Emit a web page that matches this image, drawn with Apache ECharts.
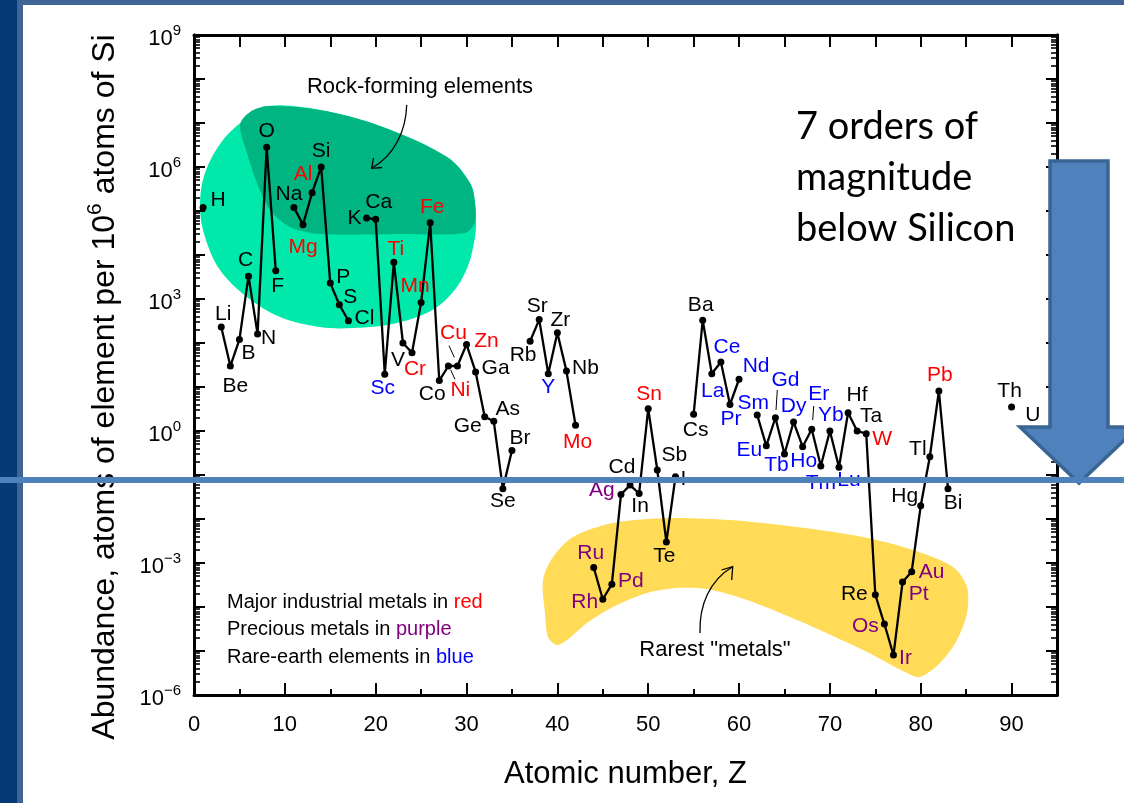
<!DOCTYPE html>
<html>
<head>
<meta charset="utf-8">
<script src="https://cdn.jsdelivr.net/npm/echarts@6/dist/echarts.min.js"></script>
<style>
html, body { margin: 0; padding: 0; background: #fff; }
#chart { width: 1124px; height: 803px; }
</style>
</head>
<body>
<div id="chart"></div>
<script>
// element abundances in the crust, atoms per 10^6 atoms of Si
var symbols = ['H','Li','Be','B','C','N','O','F','Na','Mg','Al','Si','P','S','Cl','K','Ca','Sc','Ti','V','Cr','Mn','Fe','Co','Ni','Cu','Zn','Ga','Ge','As','Se','Br','Rb','Sr','Y','Zr','Nb','Mo','Ru','Rh','Pd','Ag','Cd','In','Sn','Sb','Te','I','Cs','Ba','La','Ce','Pr','Nd','Sm','Eu','Gd','Tb','Dy','Ho','Er','Tm','Yb','Lu','Hf','Ta','W','Re','Os','Ir','Pt','Au','Hg','Tl','Pb','Bi','Th','U'];
var atomicNumbers = [1,3,4,5,6,7,8,9,11,12,13,14,15,16,17,19,20,21,22,23,24,25,26,27,28,29,30,31,32,33,34,35,37,38,39,40,41,42,44,45,46,47,48,49,50,51,52,53,55,56,57,58,59,60,62,63,64,65,66,67,68,69,70,71,72,73,74,75,76,77,78,79,80,81,82,83,90,92];
var abundances = [1.2e5,230,30,120,3300,160,2.8e6,4400,1.2e5,4.9e4,2.6e5,1e6,2300,740,320,6.9e4,6.5e4,19.5,6800,100,60,830,5.4e4,14,30,30,93,22,2.1,1.66,0.049,0.36,110,340,20,170,23,1.35,7.9e-4,1.5e-4,3.3e-4,0.036,0.059,0.038,3.2,0.13,0.003,0.091,2.4,330,20,37,4.0,15,2.3,0.46,2.0,0.30,1.6,0.44,1.1,0.16,1.0,0.15,2.6,1.0,0.87,1.9e-4,4.1e-5,8.1e-6,3.7e-4,6.3e-4,0.020,0.26,8.1,0.049,3.5,1.0];

var industrialMetals = ['Mg','Al','Ti','Cr','Mn','Fe','Ni','Cu','Zn','Mo','Sn','W','Pb'];
var preciousMetals = ['Ru','Rh','Pd','Ag','Os','Ir','Pt','Au'];
var rareEarths = ['Sc','Y','La','Ce','Pr','Nd','Sm','Eu','Gd','Tb','Dy','Ho','Er','Tm','Yb','Lu'];

var yMajorTicks = [1e-6,1e-5,1e-4,1e-3,1e-2,1e-1,1,1e1,1e2,1e3,1e4,1e5,1e6,1e7,1e8,1e9];
var yLabelTicks = [1e-6,1e-3,1,1e3,1e6,1e9];
var minorMultipliers = [2,3,4,5,6,7,8,9];

var FONT = "'Liberation Sans', Arial, sans-serif";

// where each symbol's label sits relative to its dot (px)
var labelOffset = {
  H:[15,-7], Li:[2,-13], Be:[5,20], B:[9,14], C:[-3,-16], N:[11,4], O:[0,-16], F:[2,16],
  Na:[-5,-13], Mg:[0,23], Al:[-9,-19], Si:[0,-16], P:[13,-6], S:[11,-8], Cl:[16,-3],
  K:[-12,0], Ca:[3,-17], Sc:[-2,14], Ti:[2,-13], V:[-5,17], Cr:[3,16], Mn:[-6,-16], Fe:[2,-16],
  Co:[-7,14], Ni:[12,24], Cu:[-4,-33], Zn:[20,-3], Ga:[20,-4], Ge:[-17,9], As:[14,-12], Se:[0,13], Br:[8,-12],
  Rb:[-7,14], Sr:[-2,-13], Y:[0,13], Zr:[3,-13], Nb:[19,-3], Mo:[2,17],
  Ru:[-3,-14], Rh:[-18,3], Pd:[19,-3], Ag:[-19,-4], Cd:[-8,-18], In:[1,13], Sn:[1,-15], Sb:[17,-15], Te:[-2,14], I:[8,2],
  Cs:[2,16], Ba:[-2,-15], La:[1,17], Ce:[6,-15], Pr:[1,15], Nd:[17,-13],
  Sm:[-4,-12], Eu:[-17,4], Gd:[10,-38], Tb:[-8,11], Dy:[0,-16], Ho:[1,15], Er:[7,-35], Tm:[0,17], Yb:[1,-16], Lu:[10,13],
  Hf:[9,-18], Ta:[14,-15], W:[16,6], Re:[-21,-1], Os:[-19,2], Ir:[12,3], Pt:[16,12], Au:[20,0],
  Hg:[-16,-10], Tl:[-12,-8], Pb:[1,-16], Bi:[5,15], Th:[-2,-16], U:[3,-16]
};

function symbolColor(s) {
  if (industrialMetals.indexOf(s) >= 0) return '#ff0000';
  if (preciousMetals.indexOf(s) >= 0) return '#800080';
  if (rareEarths.indexOf(s) >= 0) return '#0000ff';
  return '#000000';
}

// points, with a break wherever an element is missing
var lineData = [];
symbols.forEach(function (s, i) {
  var z = atomicNumbers[i];
  if (i > 0 && z - atomicNumbers[i - 1] > 1) {
    lineData.push({ value: [atomicNumbers[i - 1] + 1, '-'] });
  }
  lineData.push({
    value: [z, abundances[i]],
    name: s,
    label: { offset: labelOffset[s] || [0, -14], color: symbolColor(s) }
  });
});

var yMinorTicks = [];
yMajorTicks.slice(0, -1).forEach(function (d) {
  minorMultipliers.forEach(function (m) { yMinorTicks.push(m * d); });
});

function powerLabel(v) {
  var e = Math.round(Math.log10(v));
  return '{b|10}{s|' + (e < 0 ? '\u2212' + (-e) : e) + '}';
}

var chart = echarts.init(document.getElementById('chart'));

var logAxisBase = {
  type: 'log', logBase: 10, min: 1e-6, max: 1e9,
  splitLine: { show: false },
  axisLabel: { show: false }
};

var option = {
  animation: false,
  backgroundColor: '#ffffff',
  grid: { left: 194, right: 67, top: 35, bottom: 108, outerBoundsMode: 'none', containLabel: false },
  xAxis: [
    {
      type: 'value', min: 0, max: 95, interval: 10, position: 'bottom',
      axisLine: { onZero: false, lineStyle: { color: '#000', width: 3 } },
      axisTick: { inside: true, length: 12, lineStyle: { color: '#000', width: 2 } },
      axisLabel: { fontSize: 22, fontFamily: FONT, color: '#000', margin: 19, showMaxLabel: false },
      splitLine: { show: false },
      name: 'Atomic number, Z', nameLocation: 'middle', nameGap: 64,
      nameTextStyle: { fontSize: 31, fontFamily: FONT, color: '#000' }
    },
    {
      type: 'value', min: 0, max: 95, interval: 5, position: 'top',
      axisLine: { onZero: false, lineStyle: { color: '#000', width: 3 } },
      axisTick: { inside: true, length: 12, lineStyle: { color: '#000', width: 2 } },
      axisLabel: { show: false }, splitLine: { show: false }
    },
    {
      type: 'value', min: 0, max: 95, interval: 5, position: 'bottom',
      axisLine: { show: false, onZero: false },
      axisTick: { inside: true, length: 6, lineStyle: { color: '#000', width: 2 } },
      axisLabel: { show: false }, splitLine: { show: false }
    }
  ],
  yAxis: [
    echarts.util.merge({
      position: 'left',
      axisLine: { show: true, onZero: false, lineStyle: { color: '#000', width: 3 } },
      axisTick: { inside: true, length: 11, customValues: yMajorTicks, lineStyle: { color: '#000', width: 2 } },
      axisLabel: {
        show: true, customValues: yLabelTicks, formatter: powerLabel, margin: 13, padding: [8, 0, 0, 0],
        rich: {
          b: { fontSize: 22, fontFamily: FONT, color: '#000', lineHeight: 32 },
          s: { fontSize: 15, fontFamily: FONT, color: '#000', verticalAlign: 'top' }
        }
      },
      name: 'Abundance, atoms of element per 10{s|6} atoms of Si',
      nameLocation: 'middle', nameGap: 69,
      nameTextStyle: {
        fontSize: 32, fontFamily: FONT, color: '#000', lineHeight: 40, padding: [0, 44, 0, 0],
        rich: { s: { fontSize: 21, fontFamily: FONT, color: '#000', verticalAlign: 'top' } }
      }
    }, logAxisBase),
    echarts.util.merge({
      position: 'left',
      axisLine: { show: true, onZero: false, lineStyle: { color: '#000', width: 3 } },
      axisTick: { show: true, inside: true, length: 6, customValues: yMinorTicks, lineStyle: { color: '#000', width: 1.6 } }
    }, logAxisBase),
    echarts.util.merge({
      position: 'right',
      axisLine: { show: true, onZero: false, lineStyle: { color: '#000', width: 3 } },
      axisTick: { inside: true, length: 11, customValues: yMajorTicks, lineStyle: { color: '#000', width: 2 } }
    }, logAxisBase),
    echarts.util.merge({
      position: 'right',
      axisLine: { show: true, onZero: false, lineStyle: { color: '#000', width: 3 } },
      axisTick: { show: true, inside: true, length: 6, customValues: yMinorTicks, lineStyle: { color: '#000', width: 1.6 } }
    }, logAxisBase)
  ],
  series: [{
    type: 'line',
    xAxisIndex: 0, yAxisIndex: 0,
    data: lineData,
    connectNulls: false,
    symbol: 'circle', symbolSize: 7,
    itemStyle: { color: '#000' },
    lineStyle: { color: '#000', width: 2.3 },
    label: {
      show: true, position: 'inside', align: 'center', verticalAlign: 'middle',
      fontSize: 21, fontFamily: FONT,
      formatter: function (p) { return p.name; }
    },
    emphasis: { disabled: true },
    silent: true,
    z: 3
  }],
  graphic: [
    // frame of the slide
    { type: 'rect', shape: { x: 0, y: 0, width: 17, height: 803 }, style: { fill: '#033a75' }, z: 20 },
    { type: 'rect', shape: { x: 17, y: 0, width: 6, height: 803 }, style: { fill: '#3f6597' }, z: 20 },
    { type: 'rect', shape: { x: 17, y: 0, width: 1107, height: 5 }, style: { fill: '#3f6597' }, z: 20 },
    // rock-forming region
    { type: 'polygon', z: 0, shape: { smooth: 0.35, points: [[268,106],[320,110],[380,126],[447,157],[470,183],[475,203],[475,237],[463,277],[437,307],[397,323],[353,328],[320,327],[280,317],[247,297],[220,270],[205,237],[200,207],[205,173],[223,140],[247,118]] }, style: { fill: '#00e8aa' } },
    { type: 'polygon', z: 1, shape: { smooth: 0.3, points: [[268,106],[320,110],[380,126],[447,157],[470,183],[475,203],[475,222],[465,233],[400,234],[320,234],[290,227],[270,210],[257,183],[247,153],[240,125],[250,112]] }, style: { fill: '#00b581' } },
    // rarest metals region
    { type: 'polygon', z: 0, shape: { smooth: 0.3, points: [[543,580],[553,557],[573,537],[613,523],[670,518],[730,520],[797,527],[863,537],[913,550],[953,567],[967,587],[967,613],[957,640],[940,663],[920,677],[907,673],[863,650],[797,620],[747,600],[707,589],[677,588],[647,593],[613,607],[587,623],[567,640],[557,645],[548,637],[545,613]] }, style: { fill: '#ffdb58' } },
    // annotations
    { type: 'text', z: 5, x: 420, y: 87, style: { text: 'Rock-forming elements', font: '22px ' + FONT, fill: '#000', align: 'center', verticalAlign: 'middle' } },
    { type: 'bezierCurve', z: 5, shape: { x1: 406.7, y1: 105, cpx1: 406, cpy1: 130, cpx2: 395, cpy2: 155, x2: 372, y2: 168 }, style: { stroke: '#000', lineWidth: 1.3, fill: null } },
    { type: 'polyline', z: 5, shape: { points: [[373.5,158],[371.7,168.3],[382,167.5]] }, style: { stroke: '#000', lineWidth: 1.3, fill: null } },
    { type: 'text', z: 5, x: 715, y: 650, style: { text: 'Rarest "metals"', font: '22px ' + FONT, fill: '#000', align: 'center', verticalAlign: 'middle' } },
    { type: 'bezierCurve', z: 5, shape: { x1: 700, y1: 633, cpx1: 699, cpy1: 605, cpx2: 710, cpy2: 580, x2: 732.7, y2: 566.7 }, style: { stroke: '#000', lineWidth: 1.3, fill: null } },
    { type: 'polyline', z: 5, shape: { points: [[721.5,570],[732.7,566.7],[731.7,580]] }, style: { stroke: '#000', lineWidth: 1.3, fill: null } },
    // leader ticks for crowded labels
    { type: 'line', z: 5, shape: { x1: 450.7, y1: 370, x2: 455, y2: 379.3 }, style: { stroke: '#000', lineWidth: 1 } },
    { type: 'line', z: 5, shape: { x1: 449, y1: 345.7, x2: 454.3, y2: 357.3 }, style: { stroke: '#000', lineWidth: 1 } },
    { type: 'line', z: 5, shape: { x1: 777.3, y1: 390, x2: 776, y2: 410 }, style: { stroke: '#000', lineWidth: 1 } },
    { type: 'line', z: 5, shape: { x1: 813.7, y1: 406, x2: 812.7, y2: 420 }, style: { stroke: '#000', lineWidth: 1 } },
    // legend notes
    { type: 'text', z: 5, x: 227, y: 602, style: { text: '{k|Major industrial metals in }{r|red}', verticalAlign: 'middle', rich: { k: { font: '20px ' + FONT, fill: '#000' }, r: { font: '20px ' + FONT, fill: '#ff0000' } } } },
    { type: 'text', z: 5, x: 227, y: 629, style: { text: '{k|Precious metals in }{r|purple}', verticalAlign: 'middle', rich: { k: { font: '20px ' + FONT, fill: '#000' }, r: { font: '20px ' + FONT, fill: '#800080' } } } },
    { type: 'text', z: 5, x: 227, y: 657, style: { text: '{k|Rare-earth elements in }{r|blue}', verticalAlign: 'middle', rich: { k: { font: '20px ' + FONT, fill: '#000' }, r: { font: '20px ' + FONT, fill: '#0000ff' } } } },
    // callout
    { type: 'text', z: 5, x: 796, y: 127, style: { text: '7 orders of', font: "38px Lato, 'Open Sans', sans-serif", fill: '#000', verticalAlign: 'middle' } },
    { type: 'text', z: 5, x: 796, y: 178, style: { text: 'magnitude', font: "38px Lato, 'Open Sans', sans-serif", fill: '#000', verticalAlign: 'middle' } },
    { type: 'text', z: 5, x: 796, y: 229, style: { text: 'below Silicon', font: "38px Lato, 'Open Sans', sans-serif", fill: '#000', verticalAlign: 'middle' } },
    // big arrow and the line it points to
    { type: 'polygon', z: 10, shape: { points: [[1050,161],[1108,161],[1108,427],[1138,427],[1079,483],[1020,427],[1050,427]] }, style: { fill: '#4f81bd', stroke: '#3a6494', lineWidth: 3.5 } },
    { type: 'line', z: 21, shape: { x1: 0, y1: 480, x2: 1124, y2: 480 }, style: { stroke: '#4f81bd', lineWidth: 6 } }
  ]
};

chart.setOption(option);
window.addEventListener('resize', function () { chart.resize(); });
</script>
</body>
</html>
